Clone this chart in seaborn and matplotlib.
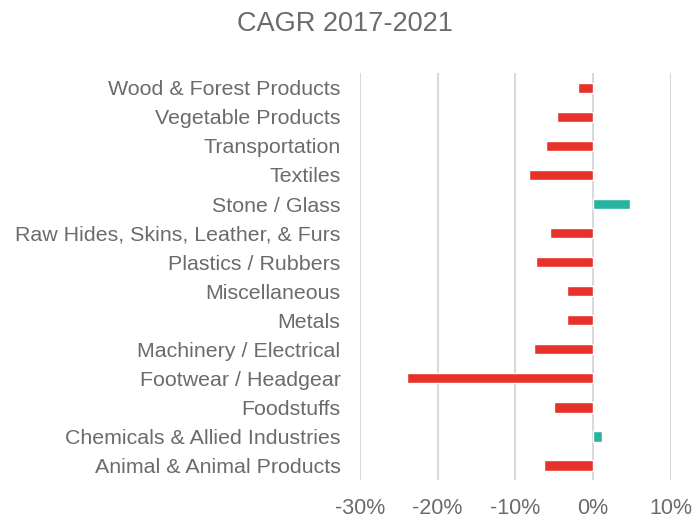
import matplotlib
matplotlib.use("Agg")
import matplotlib.pyplot as plt
import matplotlib.ticker as mticker
import pandas as pd
import seaborn as sns

categories = [
    "Wood & Forest Products",
    "Vegetable Products",
    "Transportation",
    "Textiles",
    "Stone / Glass",
    "Raw Hides, Skins, Leather, & Furs",
    "Plastics / Rubbers",
    "Miscellaneous",
    "Metals",
    "Machinery / Electrical",
    "Footwear / Headgear",
    "Foodstuffs",
    "Chemicals & Allied Industries",
    "Animal & Animal Products",
]
cagr = [-2.0, -4.6, -6.0, -8.3, 4.7, -5.6, -7.3, -3.3, -3.4, -7.6, -23.9, -5.0, 1.1, -6.3]
x_ticks = [-30, -20, -10, 0, 10]

df = pd.DataFrame({"category": categories, "cagr": cagr})
df["direction"] = ["up" if v >= 0 else "down" for v in df["cagr"]]

sns.set_theme(style="white")
plt.rcParams["font.family"] = ["Liberation Sans", "DejaVu Sans"]
text_color = "#6B6B6B"

fig = plt.figure(figsize=(6.96, 5.23), dpi=100)
ax = fig.add_axes([0.517, 0.082, 0.447, 0.778])

sns.barplot(
    data=df, x="cagr", y="category", hue="direction",
    palette={"down": "#E8312A", "up": "#26B3A0"}, saturation=1,
    orient="h", dodge=False, width=0.35, legend=False, ax=ax,
)

ax.set_xlim(-30, 10)
ax.set_xticks(x_ticks)
ax.xaxis.set_major_formatter(mticker.FuncFormatter(lambda v, _: f"{v:.0f}%"))
ax.grid(axis="x", color="#D9D9D9", linewidth=1.5)
ax.set_axisbelow(True)
for s in ax.spines.values():
    s.set_visible(False)
ax.set_xlabel("")
ax.set_ylabel("")
ax.tick_params(axis="y", length=0, pad=14, labelsize=15.4, labelcolor=text_color)
ax.tick_params(axis="x", length=0, pad=13, labelsize=15.5, labelcolor=text_color)

fig.text(0.496, 0.955, "CAGR 2017-2021", ha="center", va="center",
         fontsize=19.5, color=text_color)

fig.savefig("out.png", dpi=100)
